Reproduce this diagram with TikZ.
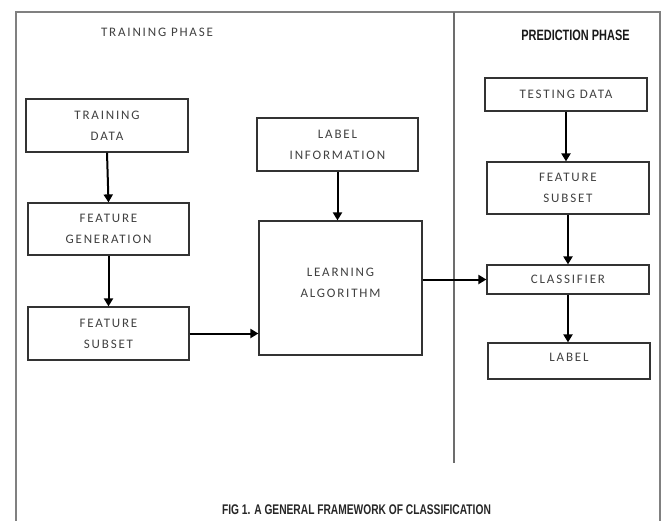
\documentclass[tikz,border=0pt]{standalone}
\usepackage{fontspec}
\usetikzlibrary{arrows.meta}
\newfontfamily\boxfont[LetterSpace=14]{Carlito}
\newfontfamily\narrowbold[FakeStretch=0.73]{Liberation Sans Bold}
\definecolor{txtgray}{HTML}{404040}
\definecolor{framegray}{HTML}{808080}
\definecolor{boxline}{HTML}{333333}
\tikzset{
  stepbox/.style={draw=boxline, line width=1.2pt, inner sep=0pt, align=center,
    text=txtgray, font=\boxfont\fontsize{13}{21}\selectfont},
  flowarrow/.style={draw=black, line width=2pt, -{Triangle[length=8pt,width=9pt]}},
  phasetitle/.style={inner sep=0pt},
}
\begin{document}
\begin{tikzpicture}[x=1pt,y=-1pt]
\useasboundingbox (0,0) rectangle (662,520);
% frame and divider
\draw[framegray, line width=1.5pt] (16,522) -- (16,12) -- (660,12) -- (660,522);
\draw[framegray!85!black, line width=1.2pt] (454,12) -- (454,463);
% titles
\node[phasetitle, text=txtgray, font=\boxfont\fontsize{13}{15}\selectfont] (trph) at (157,32) {TRAINING PHASE};
\node[phasetitle, text=black!90, font=\narrowbold\fontsize{15}{17}\selectfont] (prph) at (575.5,35) {PREDICTION PHASE};
\node[phasetitle, text=black!85, font=\narrowbold\fontsize{14}{16}\selectfont] (caption) at (356.5,510) {FIG 1. A GENERAL FRAMEWORK OF CLASSIFICATION};
% training phase boxes
\node[stepbox, minimum width=162pt, minimum height=53pt] (td) at (107,125.5) {TRAINING\\DATA};
\node[stepbox, minimum width=161pt, minimum height=52pt] (fg) at (108.5,229) {FEATURE\\GENERATION};
\node[stepbox, minimum width=161pt, minimum height=53pt] (fsl) at (108.5,333.5) {FEATURE\\SUBSET};
\node[stepbox, minimum width=161pt, minimum height=53pt] (li) at (337.5,144.5) {LABEL\\INFORMATION};
\node[stepbox, minimum width=163pt, minimum height=134pt] (la) at (340.5,288) {LEARNING\\ALGORITHM\\[-10pt]};
% prediction phase boxes
\node[stepbox, minimum width=162pt, minimum height=33pt] (tsd) at (566,94.5) {TESTING DATA};
\node[stepbox, minimum width=162pt, minimum height=52pt] (fsr) at (568,188) {FEATURE\\SUBSET};
\node[stepbox, minimum width=162pt, minimum height=29pt] (cl) at (568,279.5) {CLASSIFIER};
\node[stepbox, minimum width=162pt, minimum height=36pt] (lb) at (569,361) {LABEL\\[-13pt]};
% connectors
\draw[flowarrow] (td.south) -- (fg.north);
\draw[flowarrow] (fg.south) -- (fsl.north);
\draw[flowarrow] (fsl.east) -- (fsl.east -| la.west);
\draw[flowarrow] (li.south) -- (li.south |- la.north);
\draw[flowarrow] (la.east |- cl.west) -- (cl.west);
\draw[flowarrow] (tsd.south) -- (tsd.south |- fsr.north);
\draw[flowarrow] (fsr.south) -- (cl.north);
\draw[flowarrow] (cl.south) -- (cl.south |- lb.north);
\end{tikzpicture}
\end{document}
